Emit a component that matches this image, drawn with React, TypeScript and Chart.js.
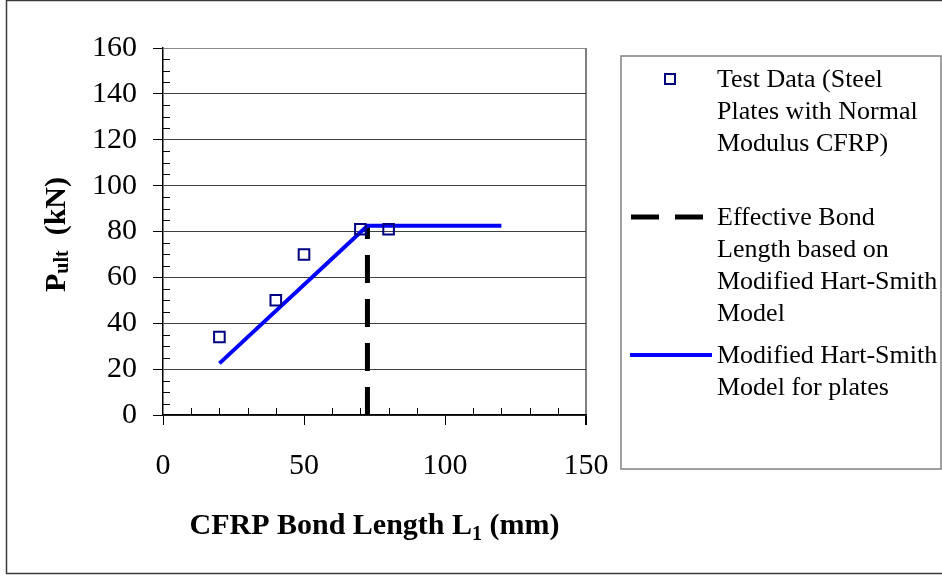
import { useEffect, useRef } from "react";
import { Chart, registerables } from "chart.js";

Chart.register(...registerables);

// ---- data ----
const testX = [20, 40, 50, 70, 80];
const testY = [34, 50, 70, 81, 81];
const modelX = [20, 72.5, 120];
const modelY = [22.5, 82.5, 82.5];
const effX = [72.5, 72.5];
const effY = [0, 82.5];

const xMin = 0;
const xMax = 150;
const xStep = 50;
const xMinorStep = 10;
const yMin = 0;
const yMax = 160;
const yStep = 20;
const yMinorStep = 5;

const xTitle = ["CFRP Bond Length L", "1", " (mm)"];
const yTitle = ["P", "ult", "  (kN)"];

const legendTest = ["Test Data (Steel", "Plates with Normal", "Modulus CFRP)"];
const legendEff = ["Effective Bond", "Length based on", "Modified Hart-Smith", "Model"];
const legendModel = ["Modified Hart-Smith", "Model for plates"];

const FONT = '"Liberation Serif", "Times New Roman", serif';

const toPts = (xs: number[], ys: number[]) => xs.map((v, i) => ({ x: v, y: ys[i] }));

function drawSegments(
  ctx: CanvasRenderingContext2D,
  parts: string[],
  big: number,
  small: number,
  subShift: number,
  cx: number,
  by: number
) {
  const fBig = `bold ${big}px ${FONT}`;
  const fSmall = `bold ${small}px ${FONT}`;
  ctx.font = fBig;
  const w0 = ctx.measureText(parts[0]).width;
  const w2 = ctx.measureText(parts[2]).width;
  ctx.font = fSmall;
  const w1 = ctx.measureText(parts[1]).width;
  const total = w0 + w1 + w2;
  let x0 = cx - total / 2;
  ctx.textAlign = "left";
  ctx.textBaseline = "alphabetic";
  ctx.font = fBig;
  ctx.fillText(parts[0], x0, by);
  x0 += w0;
  ctx.font = fSmall;
  ctx.fillText(parts[1], x0, by + subShift);
  x0 += w1;
  ctx.font = fBig;
  ctx.fillText(parts[2], x0, by);
}

const decor = {
  id: "decor",
  afterDraw(chart: any) {
    const { ctx, chartArea } = chart;
    const xs = chart.scales.x;
    const ys = chart.scales.y;
    ctx.save();

    // minor ticks (inward)
    ctx.strokeStyle = "#000";
    ctx.lineWidth = 1;
    ctx.beginPath();
    for (let v = yMin; v <= yMax; v += yMinorStep) {
      if (v % yStep === 0) continue;
      const py = Math.round(ys.getPixelForValue(v)) + 0.5;
      ctx.moveTo(chartArea.left, py);
      ctx.lineTo(chartArea.left + 7, py);
    }
    for (let v = xMin; v <= xMax; v += xMinorStep) {
      if (v % xStep === 0) continue;
      const px = Math.round(xs.getPixelForValue(v)) + 0.5;
      ctx.moveTo(px, chartArea.bottom);
      ctx.lineTo(px, chartArea.bottom - 7);
    }
    ctx.stroke();

    // axis titles
    ctx.fillStyle = "#000";
    drawSegments(ctx, xTitle, 30, 20, 6, (chartArea.left + chartArea.right) / 2, 534);
    ctx.save();
    ctx.translate(65, (chartArea.top + chartArea.bottom) / 2 + 3);
    ctx.rotate(-Math.PI / 2);
    drawSegments(ctx, yTitle, 30, 20, 3, 0, 0);
    ctx.restore();

    // legend box
    const lx = 621;
    const ly = 56;
    const lw = 320;
    const lh = 413;
    ctx.strokeStyle = "#808080";
    ctx.lineWidth = 1.5;
    ctx.strokeRect(lx, ly, lw, lh);

    ctx.font = `26px ${FONT}`;
    ctx.fillStyle = "#000";
    ctx.textAlign = "left";
    ctx.textBaseline = "alphabetic";
    const tx = 717;
    const lineH = 32;
    legendTest.forEach((s, i) => ctx.fillText(s, tx, 87 + i * lineH));
    legendEff.forEach((s, i) => ctx.fillText(s, tx, 225 + i * lineH));
    legendModel.forEach((s, i) => ctx.fillText(s, tx, 363 + i * lineH));

    // legend markers
    ctx.strokeStyle = "#000080";
    ctx.lineWidth = 2;
    ctx.strokeRect(665, 74, 10, 10);

    ctx.strokeStyle = "#000";
    ctx.lineWidth = 5;
    ctx.setLineDash([28, 16]);
    ctx.beginPath();
    ctx.moveTo(631, 217);
    ctx.lineTo(704, 217);
    ctx.stroke();
    ctx.setLineDash([]);

    ctx.strokeStyle = "#0000FF";
    ctx.lineWidth = 4;
    ctx.beginPath();
    ctx.moveTo(630, 355);
    ctx.lineTo(712, 355);
    ctx.stroke();

    // outer frame
    ctx.strokeStyle = "#3a3a3a";
    ctx.lineWidth = 1.5;
    ctx.strokeRect(6.5, 0.5, 1000, 573);

    ctx.restore();
  },
};

export default function App() {
  const ref = useRef<HTMLCanvasElement | null>(null);

  useEffect(() => {
    if (!ref.current) return;
    const chart = new Chart(ref.current, {
      type: "scatter",
      data: {
        datasets: [
          {
            label: "Test Data (Steel Plates with Normal Modulus CFRP)",
            data: toPts(testX, testY),
            pointStyle: "rect",
            pointRadius: 7.5,
            pointBorderWidth: 2,
            pointBorderColor: "#000080",
            pointBackgroundColor: "rgba(0,0,0,0)",
            showLine: false,
          },
          {
            label: "Modified Hart-Smith Model for plates",
            data: toPts(modelX, modelY),
            showLine: true,
            borderColor: "#0000FF",
            borderWidth: 4,
            pointRadius: 0,
            fill: false,
          },
          {
            label: "Effective Bond Length based on Modified Hart-Smith Model",
            data: toPts(effX, effY),
            showLine: true,
            borderColor: "#000000",
            borderWidth: 5,
            borderDash: [28, 16],
            borderCapStyle: "butt",
            pointRadius: 0,
            fill: false,
          },
        ],
      },
      options: {
        responsive: false,
        animation: false,
        events: [],
        layout: { padding: { left: 0, top: 48, right: 356, bottom: 0 } },
        plugins: {
          legend: { display: false },
          tooltip: { enabled: false },
          title: { display: false },
        },
        scales: {
          x: {
            type: "linear",
            min: xMin,
            max: xMax,
            afterFit: (s: any) => {
              s.height = 163;
            },
            ticks: {
              stepSize: xStep,
              color: "#000",
              font: { family: FONT, size: 30 },
              padding: 23,
            },
            grid: {
              color: (c: any) => (c.tick && c.tick.value === xMax ? "#808080" : "rgba(0,0,0,0)"),
              lineWidth: (c: any) => (c.tick && c.tick.value === xMax ? 2 : 1),
              tickColor: "#000",
              tickLength: 10,
              drawTicks: true,
            },
            border: { display: true, color: "#000", width: 1.5 },
          },
          y: {
            type: "linear",
            min: yMin,
            max: yMax,
            afterFit: (s: any) => {
              s.width = 163;
            },
            ticks: {
              stepSize: yStep,
              color: "#000",
              font: { family: FONT, size: 30 },
              padding: 16,
            },
            grid: {
              color: (c: any) => (c.tick && c.tick.value === yMax ? "#8a8a8a" : "#404040"),
              lineWidth: 1,
              tickColor: "#000",
              tickLength: 10,
              drawTicks: true,
            },
            border: { display: true, color: "#000", width: 1.5 },
          },
        },
      },
      plugins: [decor],
    });
    return () => chart.destroy();
  }, []);

  return (
    <div style={{ position: "fixed", left: 0, top: 0, width: 942, height: 578, background: "#fff" }}>
      <canvas ref={ref} width={942} height={578} style={{ display: "block" }} />
    </div>
  );
}
